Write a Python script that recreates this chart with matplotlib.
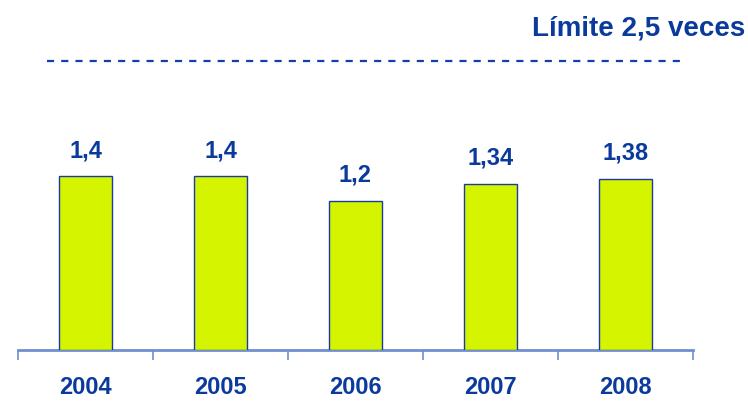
import matplotlib
matplotlib.use("Agg")
import matplotlib.pyplot as plt
from matplotlib import font_manager as fm

years = ["2004", "2005", "2006", "2007", "2008"]
values = [1.4, 1.4, 1.2, 1.34, 1.38]
value_labels = ["1,4", "1,4", "1,2", "1,34", "1,38"]
limit_label = "Límite 2,5 veces"
limit_line_level = 2.33

BLUE = "#0a3a9c"
BAR = "#d4f400"
AXIS = "#6f8fcf"

names = {f.name for f in fm.fontManager.ttflist}
narrow = "Liberation Sans Narrow" if "Liberation Sans Narrow" in names else "Liberation Sans"

fig = plt.figure(figsize=(7.48, 4.01), dpi=100)
ax = fig.add_axes([18/748, 51/401, 675/748, 323/401])
x = list(range(len(years)))
ax.bar(x, values, width=0.39, color=BAR, edgecolor="#1a3aa8", linewidth=1.0, zorder=3)
for xi, v, lab in zip(x, values, value_labels):
    ax.annotate(lab, (xi, v), xytext=(0, 14), textcoords="offset pixels",
                ha="center", va="bottom", fontsize=17, fontweight="bold",
                color=BLUE, family="Liberation Sans")

ax.set_xlim(-0.5, len(years) - 0.5)
ax.set_ylim(0, 2.6)
ax.axhline(limit_line_level, xmin=0.043, xmax=0.985, color="#1040a8", lw=1.6,
           dashes=(3.2, 3.2))

for s in ["top", "right", "left"]:
    ax.spines[s].set_visible(False)
ax.spines["bottom"].set_color(AXIS)
ax.spines["bottom"].set_linewidth(2)
ax.set_yticks([])
ax.set_xticks([i - 0.5 for i in range(len(years) + 1)])
ax.set_xticklabels([])
ax.tick_params(axis="x", which="major", length=7, width=1.2, color=AXIS)
ax.set_xticks(x, minor=True)
ax.set_xticklabels(years, minor=True)
ax.tick_params(axis="x", which="minor", length=0, pad=19, labelsize=17,
               labelcolor=BLUE)
for t in ax.get_xticklabels(minor=True):
    t.set_fontweight("bold")
    t.set_family("Liberation Sans")

fig.text(745/748, 1 - 28/401, limit_label, ha="right", va="center",
         fontsize=20, fontweight="bold", color=BLUE, family=narrow)

fig.savefig("out.png", dpi=100)
